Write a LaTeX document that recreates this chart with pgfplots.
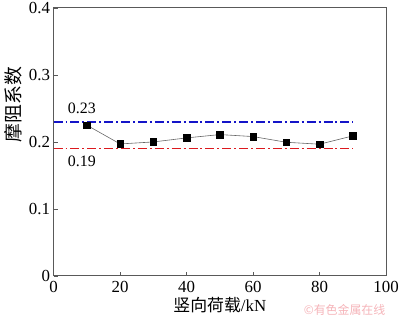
\documentclass[border=0pt]{standalone}
\usepackage{fontspec}
\setmainfont{Liberation Serif}
\newfontfamily\cjk{Noto Sans CJK SC}
\usepackage{pgfplots}
\pgfplotsset{compat=1.18}
\definecolor{refblue}{RGB}{20,20,200}
\definecolor{refred}{RGB}{220,25,30}
\definecolor{wm}{RGB}{245,180,185}
\begin{document}
\begin{tikzpicture}
\begin{axis}[
  scale only axis, width=335pt, height=270pt,
  xmin=0, xmax=100, ymin=0, ymax=0.4,
  xtick={0,20,40,60,80,100}, ytick={0,0.1,0.2,0.3,0.4},
  yticklabels={0,0.1,0.2,0.3,0.4},
  tick align=inside, xtick pos=bottom, ytick pos=left,
  major tick length=4pt,
  axis line style={black!65, line width=1pt},
  tick style={black!65, line width=0.8pt},
  /pgf/number format/assume math mode=true,
  tick label style={font=\fontsize{17}{17}\selectfont},
  xticklabel style={yshift=-2pt},
  xlabel={\cjk 竖向荷载\rmfamily/kN}, ylabel={\cjk 摩阻系数},
  xlabel style={font=\fontsize{17}{17}\selectfont, yshift=2pt},
  ylabel style={font=\fontsize{19}{19}\selectfont, at={(axis description cs:-0.122,0.64)}, anchor=center},
  clip=false,
]
\addplot[refblue, line width=1.6pt, dash pattern=on 9pt off 3pt on 2pt off 3pt] coordinates {(0,0.23) (90,0.23)};
\addplot[refred, line width=1.6pt, dash pattern=on 9pt off 3pt on 2pt off 3pt] coordinates {(0,0.19) (90,0.19)};
\addplot[gray!80!black, line width=0.6pt, mark=square*, mark size=3.3pt, mark options={black, solid}] coordinates {
(10,0.225) (20,0.197) (30,0.200) (40,0.206) (50,0.211) (60,0.208) (70,0.1995) (80,0.1966) (90,0.209)};
\node[font=\fontsize{16}{16}\selectfont] at (axis cs:8.5,0.25) {0.23};
\node[font=\fontsize{16}{16}\selectfont] at (axis cs:8.5,0.171) {0.19};
\node[font=\cjk\fontsize{12}{12}\selectfont, text=wm] at (rel axis cs:0.875,-0.126) {©有色金属在线};
\coordinate (bl) at (rel axis cs:0,0);
\coordinate (tr) at (rel axis cs:1,1);
\end{axis}
\pgfresetboundingbox
\path[use as bounding box] ([shift={(-54pt,-45pt)}]bl) rectangle ([shift={(14pt,8pt)}]tr);
\end{tikzpicture}
\end{document}
